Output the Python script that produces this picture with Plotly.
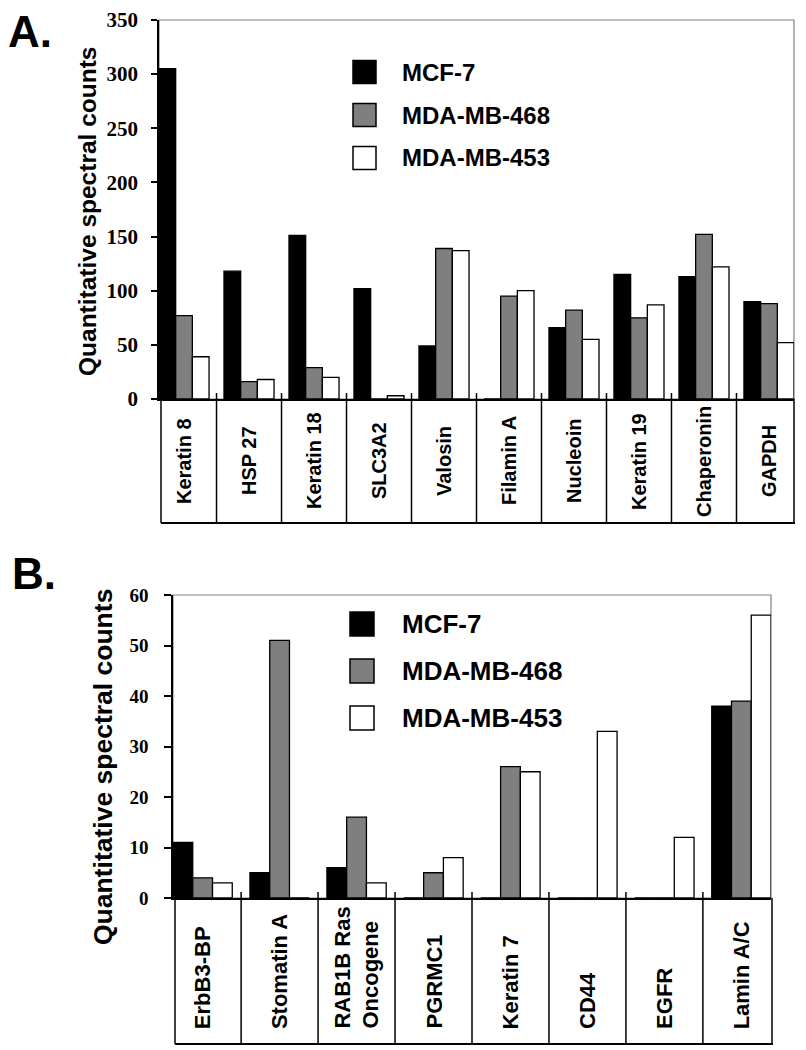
import plotly.graph_objects as go

W, H = 806, 1050
OFF = 8  # page body margin that shifts the figure in the browser

# Panel A: abundant proteins
genes_a = ["Keratin 8", "HSP 27", "Keratin 18", "SLC3A2", "Valosin",
           "Filamin A", "Nucleoin", "Keratin 19", "Chaperonin", "GAPDH"]
mcf7_a = [305, 118, 151, 102, 49, 0, 66, 115, 113, 90]
mda468_a = [77, 16, 29, 0, 139, 95, 82, 75, 152, 88]
mda453_a = [39, 18, 20, 3, 137, 100, 55, 87, 122, 52]

# Panel B: low abundance proteins
genes_b = ["ErbB3-BP", "Stomatin A", "RAB1B Ras<br>Oncogene", "PGRMC1",
           "Keratin 7", "CD44", "EGFR", "Lamin A/C"]
mcf7_b = [11, 5, 6, 0, 0, 0, 0, 38]
mda468_b = [4, 51, 16, 5, 26, 0, 0, 39]
mda453_b = [3, 0, 3, 8, 25, 33, 12, 56]

cell_lines = ["MCF-7", "MDA-MB-468", "MDA-MB-453"]
colors = ["#000000", "#7f7f7f", "#ffffff"]

SANS = "Liberation Sans, Arial, sans-serif"
SERIF = "Liberation Serif, Times New Roman, serif"


def px(x):
    return (x - OFF) / W


def py(y):
    return 1 - (y - OFF) / H


# pixel boxes of the two plot areas: left, right, top, bottom
box_a = (159, 794, 20, 399)
box_b = (173, 771, 595, 898)

fig = go.Figure()

for series, ax in [((mcf7_a, mda468_a, mda453_a), ""), ((mcf7_b, mda468_b, mda453_b), "2")]:
    for vals, name, col in zip(series, cell_lines, colors):
        fig.add_trace(go.Bar(
            x=list(range(len(vals))), y=vals, name=name,
            xaxis="x" + ax, yaxis="y" + ax,
            marker=dict(color=col, line=dict(color="black", width=1.3)),
            showlegend=False,
        ))


def x_axis(box, n, anchor):
    return dict(domain=[px(box[0]), px(box[1])], range=[-0.385, n - 1 + 0.385],
                anchor=anchor, automargin=False,
                showline=True, linecolor="black", linewidth=1.5,
                showticklabels=False, ticks="", showgrid=False, zeroline=False,
                fixedrange=True)


def y_axis(box, top, step, size, standoff, ticklen, anchor):
    return dict(domain=[py(box[3]), py(box[2])], range=[0, top], dtick=step,
                anchor=anchor, automargin=False, ticklabeloverflow="allow",
                showline=True, linecolor="black", linewidth=1.5,
                ticks="outside", ticklen=ticklen, tickwidth=1.5, tickcolor="black",
                tickfont=dict(family=SERIF, size=size, color="black", weight="bold"),
                ticklabelstandoff=standoff, showgrid=False, zeroline=False)


shapes = []
annotations = []

# plot frames (grey top/right edges)
for b in (box_a, box_b):
    shapes.append(dict(type="rect", xref="paper", yref="paper",
                       x0=px(b[0]), x1=px(b[1]), y0=py(b[3]), y1=py(b[2]),
                       line=dict(color="#808080", width=1.2), layer="below"))

# label table under panel A
tab_a_top, tab_a_bot = 393, 523
for i in range(len(genes_a) - 1):
    shapes.append(dict(type="line", xref="x", yref="paper", x0=i + 0.5, x1=i + 0.5,
                       y0=py(tab_a_top), y1=py(tab_a_bot), line=dict(color="black", width=1.5)))
for xp in (161, 794):
    shapes.append(dict(type="line", xref="paper", yref="paper", x0=px(xp), x1=px(xp),
                       y0=py(399), y1=py(tab_a_bot), line=dict(color="black", width=1.5)))
shapes.append(dict(type="line", xref="paper", yref="paper", x0=px(161), x1=px(795),
                   y0=py(tab_a_bot), y1=py(tab_a_bot), line=dict(color="black", width=2)))
for i, g in enumerate(genes_a):
    annotations.append(dict(x=i, y=py(461), xref="x", yref="paper", text=g,
                            textangle=-90, showarrow=False, xanchor="center", yanchor="middle",
                            font=dict(family=SANS, size=20, color="black", weight="bold")))

# label table under panel B
tab_b_top, tab_b_bot = 892, 1044
for i in range(len(genes_b) - 1):
    shapes.append(dict(type="line", xref="x2", yref="paper", x0=i + 0.5, x1=i + 0.5,
                       y0=py(tab_b_top), y1=py(tab_b_bot), line=dict(color="black", width=1.5)))
for xp in (175, 772):
    shapes.append(dict(type="line", xref="paper", yref="paper", x0=px(xp), x1=px(xp),
                       y0=py(898), y1=py(tab_b_bot), line=dict(color="black", width=1.5)))
shapes.append(dict(type="line", xref="paper", yref="paper", x0=px(175), x1=px(773),
                   y0=py(tab_b_bot), y1=py(tab_b_bot), line=dict(color="black", width=2)))
for i, g in enumerate(genes_b):
    annotations.append(dict(x=i, y=py(1031), xref="x2", yref="paper", text=g,
                            textangle=-90, showarrow=False, xanchor="center", yanchor="bottom",
                            align="left",
                            font=dict(family=SANS, size=22, color="black", weight="bold")))

# hand-drawn legends
for sq_x, text_x, rows, sq, fsize in [(353, 400, (72, 115, 158), 23, 24),
                                       (350, 400, (624, 671, 718), 24, 26)]:
    for name, col, yc in zip(cell_lines, colors, rows):
        shapes.append(dict(type="rect", xref="paper", yref="paper",
                           x0=px(sq_x), x1=px(sq_x + sq), y0=py(yc + sq / 2), y1=py(yc - sq / 2),
                           fillcolor=col, line=dict(color="black", width=1.5)))
        annotations.append(dict(x=px(text_x), y=py(yc), xref="paper", yref="paper", text=name,
                                showarrow=False, xanchor="left", yanchor="middle",
                                font=dict(family=SANS, size=fsize, color="black", weight="bold")))

# y axis titles
for xc, yc, fsize in [(87, 212, 24.5), (103, 767, 26.5)]:
    annotations.append(dict(x=px(xc), y=py(yc), xref="paper", yref="paper",
                            text="Quantitative spectral counts", textangle=-90, showarrow=False,
                            xanchor="center", yanchor="middle",
                            font=dict(family=SANS, size=fsize, color="black", weight="bold")))

# panel letters
annotations.append(dict(x=px(6), y=1, xref="paper", yref="paper", text="A.", yshift=3,
                        showarrow=False, xanchor="left", yanchor="top",
                        font=dict(family=SANS, size=44, color="black", weight="bold")))
annotations.append(dict(x=px(10), y=py(573), xref="paper", yref="paper", text="B.",
                        showarrow=False, xanchor="left", yanchor="middle",
                        font=dict(family=SANS, size=44, color="black", weight="bold")))

fig.update_layout(
    width=W, height=H,
    margin=dict(l=0, r=0, t=0, b=0, autoexpand=False),
    paper_bgcolor="white", plot_bgcolor="white",
    barmode="group", bargap=0.23, bargroupgap=0,
    xaxis=x_axis(box_a, len(genes_a), "y"),
    yaxis=y_axis(box_a, 350, 50, 21, 9, 6, "x"),
    xaxis2=x_axis(box_b, len(genes_b), "y2"),
    yaxis2=y_axis(box_b, 60, 10, 19, 12, 7, "x2"),
    shapes=shapes,
    annotations=annotations,
    font=dict(family=SANS, color="black"),
)

fig.write_html("out.html")
